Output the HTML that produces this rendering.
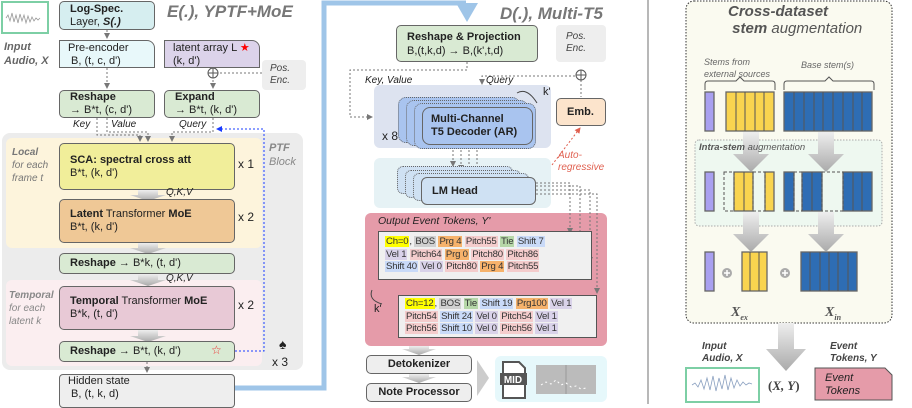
<!DOCTYPE html><html><head><meta charset="utf-8"><style>
body{margin:0;width:912px;height:404px;position:relative;overflow:hidden;background:#fff;font-family:"Liberation Sans",sans-serif;color:#222}
.a{position:absolute;box-sizing:border-box;white-space:nowrap}
.bx{position:absolute;box-sizing:border-box;border:1.3px solid #666;border-radius:5px;font-size:11px;line-height:13px;padding:3px 8px;white-space:nowrap}
.it{font-style:italic;color:#555}
.t span{padding:0 1px}
.y{background:#ffff00}.g{background:#d0d0d0}.o{background:#f6b26b}.p{background:#f4cccc}.gr{background:#b6d7a8}.b{background:#c9daf8}.v{background:#d9d2e9}
.t{font-size:9.6px;line-height:12.5px;color:#333;letter-spacing:-0.2px}
svg{position:absolute;left:0;top:0}
</style></head><body>
<svg width="912" height="404">
<defs><marker id="ar" markerWidth="6" markerHeight="6" refX="5" refY="3" orient="auto"><path d="M0,0L6,3L0,6z" fill="#777"/></marker>
<marker id="ab" markerWidth="6" markerHeight="6" refX="5" refY="3" orient="auto"><path d="M0,0L6,3L0,6z" fill="#1a3cff"/></marker>
<marker id="arr" markerWidth="6" markerHeight="6" refX="5" refY="3" orient="auto"><path d="M0,0L6,3L0,6z" fill="#e06050"/></marker>
<linearGradient id="gg" x1="0" y1="0" x2="0" y2="1"><stop offset="0" stop-color="#eee"/><stop offset="1" stop-color="#aaa"/></linearGradient></defs>
<rect x="2" y="133" width="301" height="237" rx="8" fill="#ececec"/>
<rect x="6" y="138" width="256" height="110" rx="6" fill="#fdf4dc"/>
<rect x="6" y="280" width="256" height="86" rx="6" fill="#fbeef0"/>
<polyline points="235,388 324,388 324,3 466,3" fill="none" stroke="#9fc5e8" stroke-width="5"/>
<polygon points="456,3 478,3 467,22" fill="#9fc5e8"/>
<line x1="648" y1="0" x2="648" y2="404" stroke="#888" stroke-width="1.2"/>
<g stroke="#777" stroke-width="1" stroke-dasharray="2,2" fill="none">
<line x1="107" y1="30" x2="107" y2="38" marker-end="url(#ar)"/>
<line x1="107" y1="68" x2="107" y2="88" marker-end="url(#ar)"/>
<line x1="213" y1="68" x2="213" y2="88" marker-end="url(#ar)"/>
<line x1="220" y1="73" x2="262" y2="73"/>
<polyline points="97,118 97,135 140,135 140,141" marker-end="url(#ar)"/>
<polyline points="107,118 107,132 148,132 148,141" marker-end="url(#ar)"/>
<polyline points="213,118 213,132 172,132 172,141" marker-end="url(#ar)"/>
<line x1="147" y1="362" x2="147" y2="372" marker-end="url(#ar)"/>
</g>
<polyline points="235,351 264,351 264,129 217,129" fill="none" stroke="#1a3cff" stroke-width="1" stroke-dasharray="2,2" marker-end="url(#ab)"/>
<circle cx="213" cy="73" r="5" fill="#fff" stroke="#555"/><path d="M208,73h10M213,68v10" stroke="#555"/>
<g fill="url(#gg)">
<path d="M138,190h20v5h8l-18,6l-18,-6h8z"/><path d="M138,243h20v5h8l-18,6l-18,-6h8z"/>
<path d="M138,274h20v6h8l-18,6l-18,-6h8z"/><path d="M138,330h20v6h8l-18,6l-18,-6h8z"/>
</g>
<rect x="374" y="85" width="177" height="63" rx="6" fill="#dde3f0"/>
<rect x="374" y="158" width="177" height="50" rx="6" fill="#e6f2f5"/>
<rect x="365" y="213" width="242" height="133" rx="6" fill="#e59ba9"/>
<rect x="495" y="356" width="112" height="46" rx="6" fill="#e6f8fb"/>
<g stroke="#777" stroke-width="1" stroke-dasharray="2,2" fill="none">
<polyline points="467,62 467,70 350,70 350,117 372,117" marker-end="url(#ar)"/>
<polyline points="581,70 581,76 482,76 482,84" marker-end="url(#ar)"/>
<line x1="581" y1="80" x2="581" y2="97"/>
<line x1="453" y1="146" x2="453" y2="166" marker-end="url(#ar)"/>
<line x1="461" y1="146" x2="461" y2="170" marker-end="url(#ar)"/>
<line x1="469" y1="146" x2="469" y2="173" marker-end="url(#ar)"/>
<line x1="477" y1="146" x2="477" y2="176" marker-end="url(#ar)"/>
<polyline points="536,183 570,183 570,233" marker-end="url(#ar)"/>
<polyline points="536,186 580,186 580,247" marker-end="url(#ar)"/>
<polyline points="536,190 590,190 590,262" marker-end="url(#ar)"/>
<polyline points="536,194 597,194 597,293" marker-end="url(#ar)"/>
</g>
<polyline points="552,165 580,128" fill="none" stroke="#e06050" stroke-dasharray="2,2" marker-end="url(#arr)"/>
<circle cx="581" cy="75" r="5" fill="#fff" stroke="#555"/><path d="M576,75h10M581,70v10" stroke="#555"/>
<path d="M517,93q10,-6 20,10" stroke="#444" fill="none"/>
<path d="M372,290q-4,10 10,14" stroke="#444" fill="none"/>
<g fill="url(#gg)"><path d="M409,346h20v3h7l-17,6l-17,-6h7z"/><path d="M409,374h20v3h7l-17,6l-17,-6h7z"/>
<path d="M477,360l12,18l-12,18z" fill="#ccc"/></g>
<path d="M503,362h16l6,6v30h-22z" fill="#fff" stroke="#555" stroke-width="2"/>
<rect x="500" y="373" width="27" height="12" fill="#555"/>
<text x="513" y="383" font-size="10" font-weight="bold" fill="#fff" text-anchor="middle">MID</text>
<rect x="536" y="365" width="60" height="29" fill="#bbb"/><line x1="566" y1="365" x2="566" y2="394" stroke="#999"/>
<rect x="686" y="1" width="206" height="322" rx="8" fill="#fafaf0" stroke="#333" stroke-dasharray="1.5,1.5"/>
<rect x="695" y="140" width="187" height="86" rx="4" fill="#eef8f0" stroke="#aaa" stroke-dasharray="1.5,1.5"/>
<path d="M705,90v-6q0,-3 3,-3h28l4,-4l4,4h28q3,0 3,3v6" fill="none" stroke="#555"/>
<path d="M784,90v-6q0,-3 3,-3h38l4,-4l4,4h38q3,0 3,3v6" fill="none" stroke="#555"/>
<g stroke="#666" stroke-width="1.3">
<rect x="705" y="92" width="9" height="39" fill="#a9a0f0"/>
<rect x="726" y="92" width="48" height="39" fill="#f9d44f"/>
<rect x="784" y="92" width="88" height="39" fill="#2e6db4"/>
<rect x="705" y="172" width="9" height="39" fill="#a9a0f0"/>
<rect x="734" y="172" width="19" height="39" fill="#f9d44f"/><rect x="765" y="172" width="9" height="39" fill="#f9d44f"/>
<rect x="784" y="172" width="10" height="39" fill="#2e6db4"/><rect x="802" y="172" width="20" height="39" fill="#2e6db4"/><rect x="843" y="172" width="29" height="39" fill="#2e6db4"/>
<rect x="705" y="252" width="9" height="39" fill="#a9a0f0"/>
<rect x="742" y="252" width="25" height="39" fill="#f9d44f"/>
<rect x="801" y="252" width="56" height="39" fill="#2e6db4"/>
</g>
<g stroke="#555" stroke-dasharray="3,2" fill="none"><rect x="724" y="172" width="10" height="39"/><rect x="753" y="172" width="12" height="39"/><rect x="794" y="172" width="8" height="39"/><rect x="822" y="172" width="21" height="39"/></g>
<g stroke="#555" stroke-width="1">
<path d="M736,92v39M745,92v39M755,92v39M764,92v39"/>
<path d="M794,92v39M804,92v39M814,92v39M823,92v39M833,92v39M843,92v39M853,92v39M862,92v39"/>
<path d="M744,172v39M812,172v39M853,172v39M862,172v39"/>
<path d="M750,252v39M759,252v39M810,252v39M820,252v39M829,252v39M838,252v39M848,252v39"/></g>
<circle cx="727" cy="273" r="5" fill="#aaa"/><circle cx="785" cy="273" r="5" fill="#aaa"/>
<path d="M724,273h6M727,270v6M782,273h6M785,270v6" stroke="#fff" stroke-width="1.5"/>
<g fill="url(#gg)">
<path d="M743,132h16v22h10l-18,18l-18,-18h10z"/><path d="M818,132h16v22h10l-18,18l-18,-18h10z"/>
<path d="M743,212h16v22h10l-18,18l-18,-18h10z"/><path d="M818,212h16v22h10l-18,18l-18,-18h10z"/>
<path d="M778,323h16v26h12l-20,22l-20,-22h12z"/></g>
<path d="M815,368h70l7,7v25h-77z" fill="#e59ba9" stroke="#555"/>
<rect x="686" y="368" width="73" height="34" fill="#fff" stroke="#7dcfa5" stroke-width="2"/>
<rect x="2" y="2" width="46" height="31" fill="#fff" stroke="#7dcfa5" stroke-width="2"/>
<path d="M692,385 l3,-2 3,4 3,-7 3,9 3,-11 3,12 3,-14 3,15 3,-13 3,11 3,-14 3,15 3,-12 3,10 3,-8 3,6 3,-4 3,3 3,-2 3,1" stroke="#8aa0c0" fill="none" stroke-width=".8"/>
<path d="M6,18 l2,-3 2,6 2,-8 2,9 2,-7 2,8 2,-9 2,7 2,-6 2,8 2,-7 2,6 2,-5 2,4 2,-3 2,2 2,-2" stroke="#999" fill="none" stroke-width=".8"/>
<path d="M541,385l5,-3 5,2 5,-4 5,5 5,-2 5,4 5,-1 5,3 5,-1" stroke="#fff" stroke-dasharray="2,3" fill="none"/>
</svg>

<div class="bx" style="left:59px;top:1px;width:96px;height:29px;background:#d6eef0;padding:1px 10px"><b>Log-Spec.</b><br>Layer, <b><i>S(.)</i></b></div>
<div class="a" style="left:167px;top:2px;font-size:17px;font-weight:bold;font-style:italic;color:#777">E(.), YPTF+MoE</div>
<div class="a it" style="left:4px;top:40px;font-size:11px;line-height:14px;font-weight:bold;color:#666">Input<br>Audio, X</div>
<div class="bx" style="left:59px;top:40px;width:96px;height:28px;background:#e8f8fa;border-radius:0 8px 0 0;padding:1px 8px">Pre-encoder<br>&nbsp;B, (t, c, d')</div>
<div class="bx" style="left:164px;top:40px;width:96px;height:28px;background:#dcd3ea;border-radius:0 8px 0 0;padding:1px 8px">latent array L <span style="color:#f00">★</span><br>(k, d')</div>
<div class="a it" style="left:262px;top:60px;width:44px;height:30px;background:#eee;border-radius:4px;font-size:10px;line-height:12px;padding:3px 8px;color:#444">Pos.<br>Enc.</div>
<div class="bx" style="left:59px;top:90px;width:96px;height:28px;background:#d9ead3;padding:0 10px"><b>Reshape</b><br>→ B*t, (c, d')</div>
<div class="bx" style="left:164px;top:90px;width:96px;height:28px;background:#d9ead3;padding:0 10px"><b>Expand</b><br>→ B*t, (k, d')</div>
<div class="a" style="left:73px;top:119px;font-size:10px;font-style:italic">Key</div>
<div class="a" style="left:111px;top:119px;font-size:10px;font-style:italic">Value</div>
<div class="a" style="left:179px;top:119px;font-size:10px;font-style:italic">Query</div>
<div class="a it" style="left:12px;top:146px;font-size:10px;line-height:13px;color:#777"><b>Local</b><br>for each<br>frame t</div>
<div class="a it" style="left:269px;top:141px;font-size:11px;line-height:14px;color:#888"><b>PTF</b><br>Block</div>
<div class="bx" style="left:59px;top:143px;width:176px;height:47px;background:#f1ee9a;padding:10px 10px"><b>SCA: spectral cross att</b><br>B*t, (k, d')</div>
<div class="a" style="left:238px;top:157px;font-size:12px">x 1</div>
<div class="a" style="left:166px;top:187px;font-size:10px;font-style:italic">Q,K,V</div>
<div class="bx" style="left:59px;top:199px;width:176px;height:44px;background:#efc896;padding:8px 10px"><b>Latent</b> Transformer <b>MoE</b><br>B*t, (k, d')</div>
<div class="a" style="left:238px;top:210px;font-size:12px">x 2</div>
<div class="bx" style="left:59px;top:253px;width:176px;height:21px;background:#d9ead3;padding:3px 10px"><b>Reshape</b> → B*k, (t, d')</div>
<div class="a" style="left:166px;top:273px;font-size:10px;font-style:italic">Q,K,V</div>
<div class="a it" style="left:9px;top:289px;font-size:10px;line-height:13px;color:#888"><b>Temporal</b><br>for each<br>latent k</div>
<div class="bx" style="left:59px;top:286px;width:176px;height:44px;background:#e8c9d6;padding:8px 10px"><b>Temporal</b> Transformer <b>MoE</b><br>B*k, (t, d')</div>
<div class="a" style="left:238px;top:298px;font-size:12px">x 2</div>
<div class="bx" style="left:59px;top:341px;width:176px;height:21px;background:#d9ead3;padding:3px 10px"><b>Reshape</b> → B*t, (k, d')</div>
<div class="a" style="left:211px;top:343px;font-size:12px;color:#e33">☆</div>
<div class="a" style="left:279px;top:336px;font-size:14px">♠</div>
<div class="a" style="left:272px;top:355px;font-size:12px">x 3</div>
<div class="bx" style="left:59px;top:374px;width:176px;height:34px;background:#eee;border-radius:4px;padding:0 8px">Hidden state<br>&nbsp;B, (t, k, d)</div>

<div class="a" style="left:500px;top:4px;font-size:17px;font-weight:bold;font-style:italic;color:#777">D(.), Multi-T5</div>
<div class="bx" style="left:396px;top:25px;width:142px;height:37px;background:#d9ead3;padding:4px 0 0 10px;font-size:11px;line-height:14px"><b>Reshape &amp; Projection</b><br>B,(t,k,d) → B,(k',t,d)</div>
<div class="a it" style="left:556px;top:25px;width:50px;height:37px;background:#eee;border-radius:4px;font-size:10px;line-height:12px;padding:6px 10px;color:#444">Pos.<br>Enc.</div>
<div class="a" style="left:365px;top:75px;font-size:10px;font-style:italic">Key, Value</div>
<div class="a" style="left:486px;top:75px;font-size:10px;font-style:italic">Query</div>
<div class="a" style="left:543px;top:86px;font-size:11px">k'</div>
<div class="bx" style="left:398px;top:97px;width:122px;height:46px;background:#a9c4ef;border-style:dotted;border-radius:8px"></div>
<div class="bx" style="left:406px;top:100px;width:122px;height:46px;background:#a9c4ef;border-style:dotted;border-radius:8px"></div>
<div class="bx" style="left:414px;top:103px;width:122px;height:46px;background:#a9c4ef;border-style:dotted;border-radius:8px"></div>
<div class="bx" style="left:422px;top:107px;width:111px;height:38px;background:#a9c4ef;border-radius:8px;padding:5px 0 0 8px;font-size:11px"><b>Multi-Channel<br>T5 Decoder (AR)</b></div>
<div class="a" style="left:382px;top:129px;font-size:12px">x 8</div>
<div class="bx" style="left:556px;top:98px;width:50px;height:28px;background:#fce4cc;padding:7px 10px"><b>Emb.</b></div>
<div class="a" style="left:558px;top:150px;font-size:10px;line-height:12px;font-style:italic;color:#e06050">Auto-<br>regressive</div>
<div class="bx" style="left:397px;top:166px;width:116px;height:28px;background:#cfe1f3;border-style:dotted;border-radius:6px"></div>
<div class="bx" style="left:405px;top:170px;width:116px;height:28px;background:#cfe1f3;border-style:dotted;border-radius:6px"></div>
<div class="bx" style="left:413px;top:173px;width:116px;height:28px;background:#cfe1f3;border-style:dotted;border-radius:6px"></div>
<div class="bx" style="left:421px;top:177px;width:115px;height:28px;background:#cfe1f3;border-radius:6px;padding:7px 10px"><b>LM Head</b></div>
<div class="a" style="left:378px;top:215px;font-size:10.5px;font-style:italic">Output Event Tokens, Y'</div>
<div class="a" style="left:378px;top:231px;width:214px;height:49px;background:#f0f0f0;border:1.2px solid #555"></div>
<div class="a t" style="left:385px;top:236px"><span class="y">Ch=0</span>, <span class="g">BOS</span> <span class="o">Prg 4</span> <span class="p">Pitch55</span> <span class="gr">Tie</span> <span class="b">Shift 7</span><br><span class="v">Vel 1</span> <span class="p">Pitch64</span> <span class="o">Prg 0</span> <span class="p">Pitch80</span> <span class="p">Pitch86</span><br><span class="b">Shift 40</span> <span class="v">Vel 0</span> <span class="p">Pitch80</span> <span class="o">Prg 4</span> <span class="p">Pitch55</span></div>
<div class="a" style="left:374px;top:303px;font-size:11px">k'</div>
<div class="a" style="left:398px;top:295px;width:199px;height:43px;background:#f0f0f0;border:1.2px solid #555"></div>
<div class="a t" style="left:405px;top:298px"><span class="y">Ch=12</span>, <span class="g">BOS</span> <span class="gr">Tie</span> <span class="b">Shift 19</span> <span class="o">Prg100</span> <span class="v">Vel 1</span><br><span class="p">Pitch54</span> <span class="b">Shift 24</span> <span class="v">Vel 0</span> <span class="p">Pitch54</span> <span class="v">Vel 1</span><br><span class="p">Pitch56</span> <span class="b">Shift 10</span> <span class="v">Vel 0</span> <span class="p">Pitch56</span> <span class="v">Vel 1</span></div>
<div class="bx" style="left:366px;top:355px;width:106px;height:19px;background:#eee;padding:2px;text-align:center"><b>Detokenizer</b></div>
<div class="bx" style="left:366px;top:383px;width:106px;height:19px;background:#eee;padding:2px;text-align:center"><b>Note Processor</b></div>

<div class="a" style="left:728px;top:3px;font-size:15px;line-height:17px;font-style:italic;color:#555"><b>Cross-dataset</b><br>&nbsp;<b>stem</b> augmentation</div>
<div class="a it" style="left:704px;top:56px;font-size:9px;line-height:12px;color:#666">Stems from<br>external sources</div>
<div class="a it" style="left:801px;top:60px;font-size:9px;color:#666">Base stem(s)</div>
<div class="a it" style="left:699px;top:142px;font-size:9.5px;color:#555"><b>Intra-stem</b> augmentation</div>
<div class="a" style="left:731px;top:305px;font-family:'Liberation Serif',serif;font-style:italic;font-weight:bold;font-size:14px;color:#555">X<sub style="font-size:8px">ex</sub></div>
<div class="a" style="left:825px;top:305px;font-family:'Liberation Serif',serif;font-style:italic;font-weight:bold;font-size:14px;color:#555">X<sub style="font-size:8px">in</sub></div>
<div class="a it" style="left:702px;top:341px;font-size:10px;line-height:12px;font-weight:bold;color:#444">Input<br>Audio, X</div>
<div class="a it" style="left:830px;top:341px;font-size:10px;line-height:12px;font-weight:bold;color:#444">Event<br>Tokens, Y</div>
<div class="a" style="left:768px;top:378px;font-family:'Liberation Serif',serif;font-size:13px;font-weight:bold;color:#444">(<i>X, Y</i>)</div>
<div class="a" style="left:825px;top:372px;font-size:11px;line-height:13px;font-style:italic;color:#222">Event<br>Tokens</div>
</body></html>
